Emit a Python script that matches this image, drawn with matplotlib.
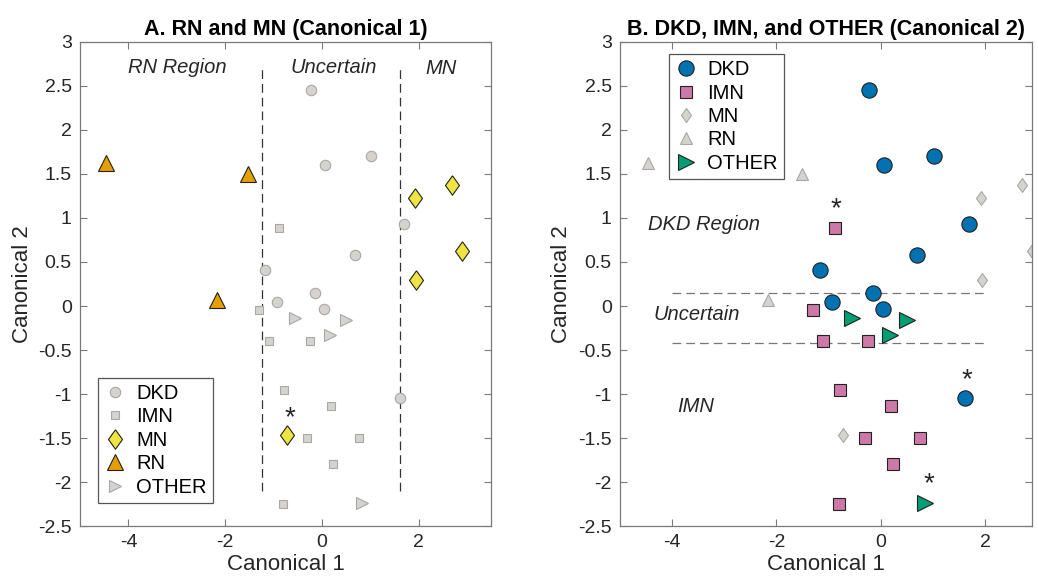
import numpy as np
import matplotlib
matplotlib.use("Agg")
import matplotlib.pyplot as plt

plt.rcParams['font.family'] = ['Liberation Sans', 'DejaVu Sans']
plt.rcParams['axes.unicode_minus'] = False

# canonical scores per group (Canonical 1, Canonical 2)
dkd_x = [-0.23, 0.07, 1.02, 1.70, 0.69, -1.17, -0.93, -0.15, 0.04, 1.62]
dkd_y = [2.46, 1.60, 1.70, 0.93, 0.58, 0.41, 0.05, 0.15, -0.03, -1.04]
imn_x = [-0.88, -1.30, -1.10, -0.24, -0.79, 0.20, -0.30, 0.76, 0.24, -0.81]
imn_y = [0.89, -0.04, -0.40, -0.40, -0.96, -1.14, -1.50, -1.50, -1.80, -2.25]
mn_x = [1.93, 2.70, 2.90, 1.94, -0.72]
mn_y = [1.23, 1.38, 0.63, 0.29, -1.47]
rn_x = [-4.47, -1.52, -2.16]
rn_y = [1.63, 1.50, 0.07]
oth_x = [-0.55, 0.50, 0.17, 0.84]
oth_y = [-0.14, -0.16, -0.33, -2.24]

# region boundaries
cut_a = [-1.23, 1.62]
cut_b = [0.15, -0.42]

# starred (misclassified) cases
star_a = [(-0.67, -1.27)]
star_b = [(-0.87, 1.10), (1.65, -0.84), (0.92, -2.02)]

DKD_C = '#0072B2'
IMN_C = '#CC79A7'
MN_C = '#F0E442'
RN_C = '#E69F00'
OTH_C = '#009E73'
GRAY_F = '#D6D3CE'
GRAY_E = '#A8A8A8'
EDGE = '#222222'
TXT = '#262626'

diamond = [(0, 1), (0.72, 0), (0, -1), (-0.72, 0), (0, 1)]

fig = plt.figure(figsize=(10.38, 5.79), dpi=100)
axA = fig.add_axes([0.0771, 0.0915, 0.396, 0.836])
axB = fig.add_axes([0.5973, 0.0915, 0.397, 0.836])


def style_axes(ax, xmax):
    ax.set_xlim(-5, xmax)
    ax.set_ylim(-2.5, 3)
    ax.set_xticks([-4, -2, 0, 2])
    yt = np.arange(-2.5, 3.01, 0.5)
    ax.set_yticks(yt)
    ax.set_yticklabels([f"{v:g}" for v in yt])
    ax.tick_params(direction='in', top=True, right=True, length=5,
                   labelsize=14, colors='#7a7a7a', labelcolor=TXT, pad=6)
    for s in ax.spines.values():
        s.set_color('#7a7a7a')
        s.set_linewidth(0.9)
    ax.set_xlabel('Canonical 1', fontsize=16, color=TXT, labelpad=2)
    ax.set_ylabel('Canonical 2', fontsize=16, color=TXT, labelpad=4)


def pts(ax, x, y, marker, ms, fc, ec, z, lw=0.8):
    return ax.plot(x, y, linestyle='none', marker=marker, markersize=ms,
                   markerfacecolor=fc, markeredgecolor=ec, markeredgewidth=lw,
                   zorder=z)[0]


def legend(ax, handles, anchor):
    leg = ax.legend(handles, ['DKD', 'IMN', 'MN', 'RN', 'OTHER'],
                    loc='upper left', bbox_to_anchor=anchor, fontsize=14.5,
                    fancybox=False, framealpha=1, edgecolor='#555555',
                    handlelength=1.1, handletextpad=0.5, labelspacing=0.22,
                    borderpad=0.3, borderaxespad=0)
    leg.get_frame().set_linewidth(0.9)


# ---- panel A
ax = axA
for c in cut_a:
    ax.plot([c, c], [-2.1, 2.7], color='#333333', lw=0.9, dashes=(7, 4), zorder=1)
h1 = pts(ax, dkd_x, dkd_y, 'o', 7.5, GRAY_F, GRAY_E, 2)
h2 = pts(ax, imn_x, imn_y, 's', 6, GRAY_F, GRAY_E, 2)
h5 = pts(ax, oth_x, oth_y, '>', 8, GRAY_F, GRAY_E, 2)
h3 = pts(ax, mn_x, mn_y, diamond, 14, MN_C, EDGE, 3)
h4 = pts(ax, rn_x, rn_y, '^', 12, RN_C, EDGE, 3)
for sx, sy in star_a:
    ax.text(sx, sy, '*', fontsize=20, ha='center', va='center', color=TXT)
ax.text(-2.99, 2.71, 'RN Region', style='italic', fontsize=14.5, ha='center', va='center', color=TXT)
ax.text(0.25, 2.71, 'Uncertain', style='italic', fontsize=14.5, ha='center', va='center', color=TXT)
ax.text(2.47, 2.70, 'MN', style='italic', fontsize=14.5, ha='center', va='center', color=TXT)
style_axes(ax, 3.5)
ax.set_title('A. RN and MN (Canonical 1)', fontsize=15.5, fontweight='bold', pad=5)
legend(ax, [h1, h2, h3, h4, h5], (0.044, 0.306))

# ---- panel B
ax = axB
for c in cut_b:
    ax.plot([-4.0, 2.05], [c, c], color='#777777', lw=0.9, dashes=(7, 4), zorder=1)
g3 = pts(ax, mn_x, mn_y, diamond, 10, GRAY_F, GRAY_E, 2)
g4 = pts(ax, rn_x, rn_y, '^', 8, GRAY_F, GRAY_E, 2)
g1 = pts(ax, dkd_x, dkd_y, 'o', 11, DKD_C, EDGE, 3)
g2 = pts(ax, imn_x, imn_y, 's', 8.5, IMN_C, EDGE, 3)
g5 = pts(ax, oth_x, oth_y, '>', 12, OTH_C, EDGE, 3)
for sx, sy in star_b:
    ax.text(sx, sy, '*', fontsize=20, ha='center', va='center', color=TXT)
ax.text(-4.46, 0.93, 'DKD Region', style='italic', fontsize=14.5, ha='left', va='center', color=TXT)
ax.text(-4.35, -0.10, 'Uncertain', style='italic', fontsize=14.5, ha='left', va='center', color=TXT)
ax.text(-3.91, -1.14, 'IMN', style='italic', fontsize=14.5, ha='left', va='center', color=TXT)
style_axes(ax, 2.9)
ax.set_title('B. DKD, IMN, and OTHER (Canonical 2)', fontsize=15.5, fontweight='bold', pad=5)
legend(ax, [g1, g2, g3, g4, g5], (0.119, 0.975))

fig.savefig('out.png', dpi=100)
